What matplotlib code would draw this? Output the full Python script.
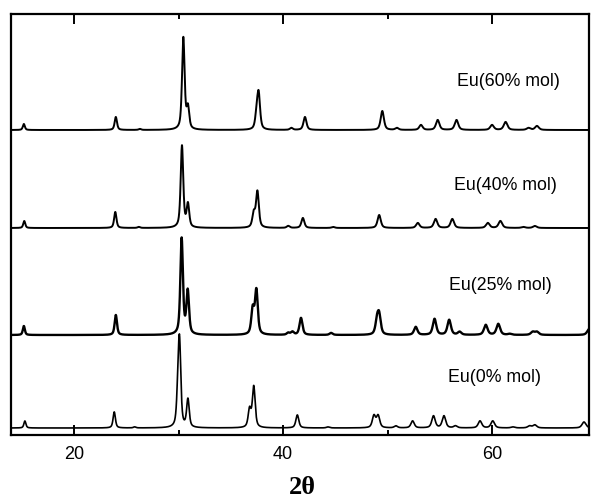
import numpy as np
import matplotlib
matplotlib.use("Agg")
import matplotlib.pyplot as plt
from matplotlib.ticker import FixedLocator

# ---- data (2theta positions and relative peak heights) ----
labels = ["Eu(60% mol)", "Eu(40% mol)", "Eu(25% mol)", "Eu(0% mol)"]
offsets = [305, 207, 100, 7]

pos_60 = [15.2, 24.0, 26.3, 30.46, 30.9, 37.48, 37.67, 40.8, 42.1, 49.5, 50.9, 53.2, 54.8, 56.6, 60.0, 61.3, 63.5, 64.3]
hgt_60 = [6, 13, 1, 92, 21, 14, 34, 2, 13, 19, 2, 5, 10, 10, 5, 8, 2, 4]

pos_40 = [15.24, 23.95, 26.2, 30.33, 30.9, 37.2, 37.55, 40.5, 41.9, 44.8, 49.2, 52.9, 54.6, 56.2, 59.6, 60.8, 63.0, 64.1]
hgt_40 = [7, 16, 1, 82, 23, 14, 36, 2, 10, 1, 13, 5, 9, 9, 5, 7, 1, 2]

pos_25 = [15.2, 24.0, 30.3, 30.88, 37.1, 37.45, 40.5, 40.9, 41.72, 44.6, 49.0, 49.2, 52.7, 54.5, 55.9, 56.9, 59.4, 60.6, 61.7, 63.9, 64.3, 69.3]
hgt_25 = [9, 20, 96, 43, 25, 44, 2, 3, 17, 2, 13, 18, 8, 16, 15, 3, 10, 11, 1, 3, 3, 6]

pos_0 = [15.3, 23.85, 25.8, 29.95, 30.1, 30.9, 36.8, 37.2, 41.37, 44.3, 48.7, 49.1, 50.8, 52.4, 54.4, 55.4, 56.5, 58.85, 60.07, 62.0, 63.6, 64.1, 68.8]
hgt_0 = [7, 16, 1, 30, 78, 28, 18, 41, 13, 1, 12, 12, 2, 7, 12, 12, 2, 7, 7, 1, 2, 3, 6]

peak_pos = [pos_60, pos_40, pos_25, pos_0]
peak_hgt = [hgt_60, hgt_40, hgt_25, hgt_0]

x_ticks_major = [20, 40, 60]
x_ticks_minor = [30, 50]
x_label = "2\u03b8"

# ---- figure ----
fig = plt.figure(figsize=(5.92, 4.99), dpi=100)
ax = fig.add_axes([11/592, 1 - 435/499, (589 - 11)/592, (435 - 14)/499])

tt = np.linspace(13.97, 69.28, 5000)

def profile(x, centers, heights, eta=0.6):
    y = np.zeros_like(x)
    for c, h in zip(centers, heights):
        fwhm = 0.23 + 0.004 * (c - 15)
        g = fwhm / 2.0
        s = fwhm / 2.3548
        lor = 1.0 / (1.0 + ((x - c) / g) ** 2)
        gau = np.exp(-0.5 * ((x - c) / s) ** 2)
        y += h * (eta * lor + (1 - eta) * gau)
    return y

lws = [1.4, 1.4, 1.7, 1.2]
for pos, hgt, off, lw in zip(peak_pos, peak_hgt, offsets, lws):
    ax.plot(tt, off + profile(tt, pos, hgt), color="black", lw=lw)

ax.set_xlim(13.97, 69.28)
ax.set_ylim(0, 421)

ax.xaxis.set_major_locator(FixedLocator(x_ticks_major))
ax.xaxis.set_minor_locator(FixedLocator(x_ticks_minor))
ax.set_yticks([])
ax.tick_params(axis="x", which="major", direction="in", length=7, width=1.4,
               top=True, bottom=True, labelsize=13, pad=8)
ax.tick_params(axis="x", which="minor", direction="in", length=3.5, width=1.4,
               top=True, bottom=True)
for lab in ax.get_xticklabels():
    lab.set_family("Liberation Sans")
for sp in ax.spines.values():
    sp.set_linewidth(1.6)

label_xy = [(508, 82), (505, 185), (500, 285), (495, 378)]
for lab, (px, py) in zip(labels, label_xy):
    fig.text(px / 592, 1 - py / 499, lab, ha="center", va="center",
             fontsize=12.8, family="Liberation Sans")

fig.text(302 / 592, 1 - 487 / 499, x_label, ha="center", va="center",
         fontsize=19, family="Liberation Serif", fontweight="bold")

fig.savefig("out.png", dpi=100)
